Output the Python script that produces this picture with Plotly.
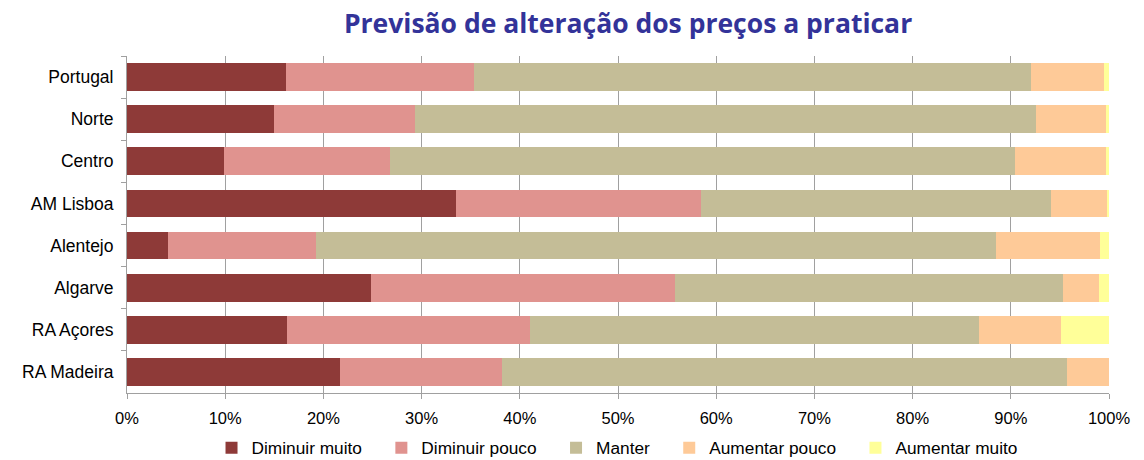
import plotly.graph_objects as go

regions = ["Portugal", "Norte", "Centro", "AM Lisboa", "Alentejo", "Algarve", "RA Açores", "RA Madeira"]
series_names = ["Diminuir muito", "Diminuir pouco", "Manter", "Aumentar pouco", "Aumentar muito"]

diminuir_muito = [16.2, 15.0, 9.9, 33.5, 4.2, 24.8, 16.3, 21.7]
diminuir_pouco = [19.1, 14.3, 16.9, 25.0, 15.0, 31.0, 24.7, 16.5]
manter = [56.8, 63.3, 63.6, 35.6, 69.3, 39.5, 45.8, 57.5]
aumentar_pouco = [7.4, 7.1, 9.3, 5.7, 10.6, 3.7, 8.3, 4.3]
aumentar_muito = [0.5, 0.3, 0.3, 0.2, 0.9, 1.0, 4.9, 0.0]

colors = ["#8E3A38", "#E0938F", "#C4BD97", "#FECA98", "#FFFF99"]
values = [diminuir_muito, diminuir_pouco, manter, aumentar_pouco, aumentar_muito]

tick_vals = [0, 10, 20, 30, 40, 50, 60, 70, 80, 90, 100]
tick_text = ["0%", "10%", "20%", "30%", "40%", "50%", "60%", "70%", "80%", "90%", "100%"]

fig = go.Figure()
n = len(series_names)
for i, (name, vals, col) in enumerate(zip(series_names, values, colors)):
    pad = "\u00a0\u00a0\u00a0" if i < n - 1 else ""
    fig.add_trace(go.Bar(
        y=regions, x=vals, name=name + pad, orientation="h",
        marker=dict(color=col, line=dict(width=0)),
    ))

fig.update_layout(
    barmode="stack",
    bargap=0.34,
    width=1144, height=460,
    margin=dict(l=127, r=35, t=56, b=67, autoexpand=False),
    paper_bgcolor="white", plot_bgcolor="white",
    font=dict(family="Liberation Sans, Arial", size=17, color="black"),
    title=dict(
        text="<b>Previsão de alteração dos preços a praticar</b>",
        font=dict(family="Open Sans", size=26.5, color="#333399"),
        x=0.549, xanchor="center", y=0.948, yanchor="middle",
    ),
    legend=dict(
        orientation="h", x=0.499, xanchor="center", y=-0.163, yanchor="middle",
        font=dict(size=17.3), traceorder="normal",
        itemwidth=30,
    ),
    showlegend=True,
)

fig.update_xaxes(
    range=[0, 100], tickvals=tick_vals, ticktext=tick_text,
    showgrid=True, gridcolor="#A0A0A0", gridwidth=1,
    showline=True, linecolor="#A0A0A0", linewidth=1,
    ticks="outside", ticklen=5, tickcolor="#A0A0A0",
    zeroline=False, tickfont=dict(size=16.5), ticklabelstandoff=5,
)
fig.update_yaxes(
    autorange="reversed",
    showline=True, linecolor="#A0A0A0", linewidth=1,
    ticks="outside", ticklen=5, tickcolor="#A0A0A0", tickson="boundaries",
    showgrid=False, tickfont=dict(size=17.5), ticklabelstandoff=9,
)

fig.write_html("out.html", config={"displayModeBar": False},
               post_script="document.body.style.margin='0';")
